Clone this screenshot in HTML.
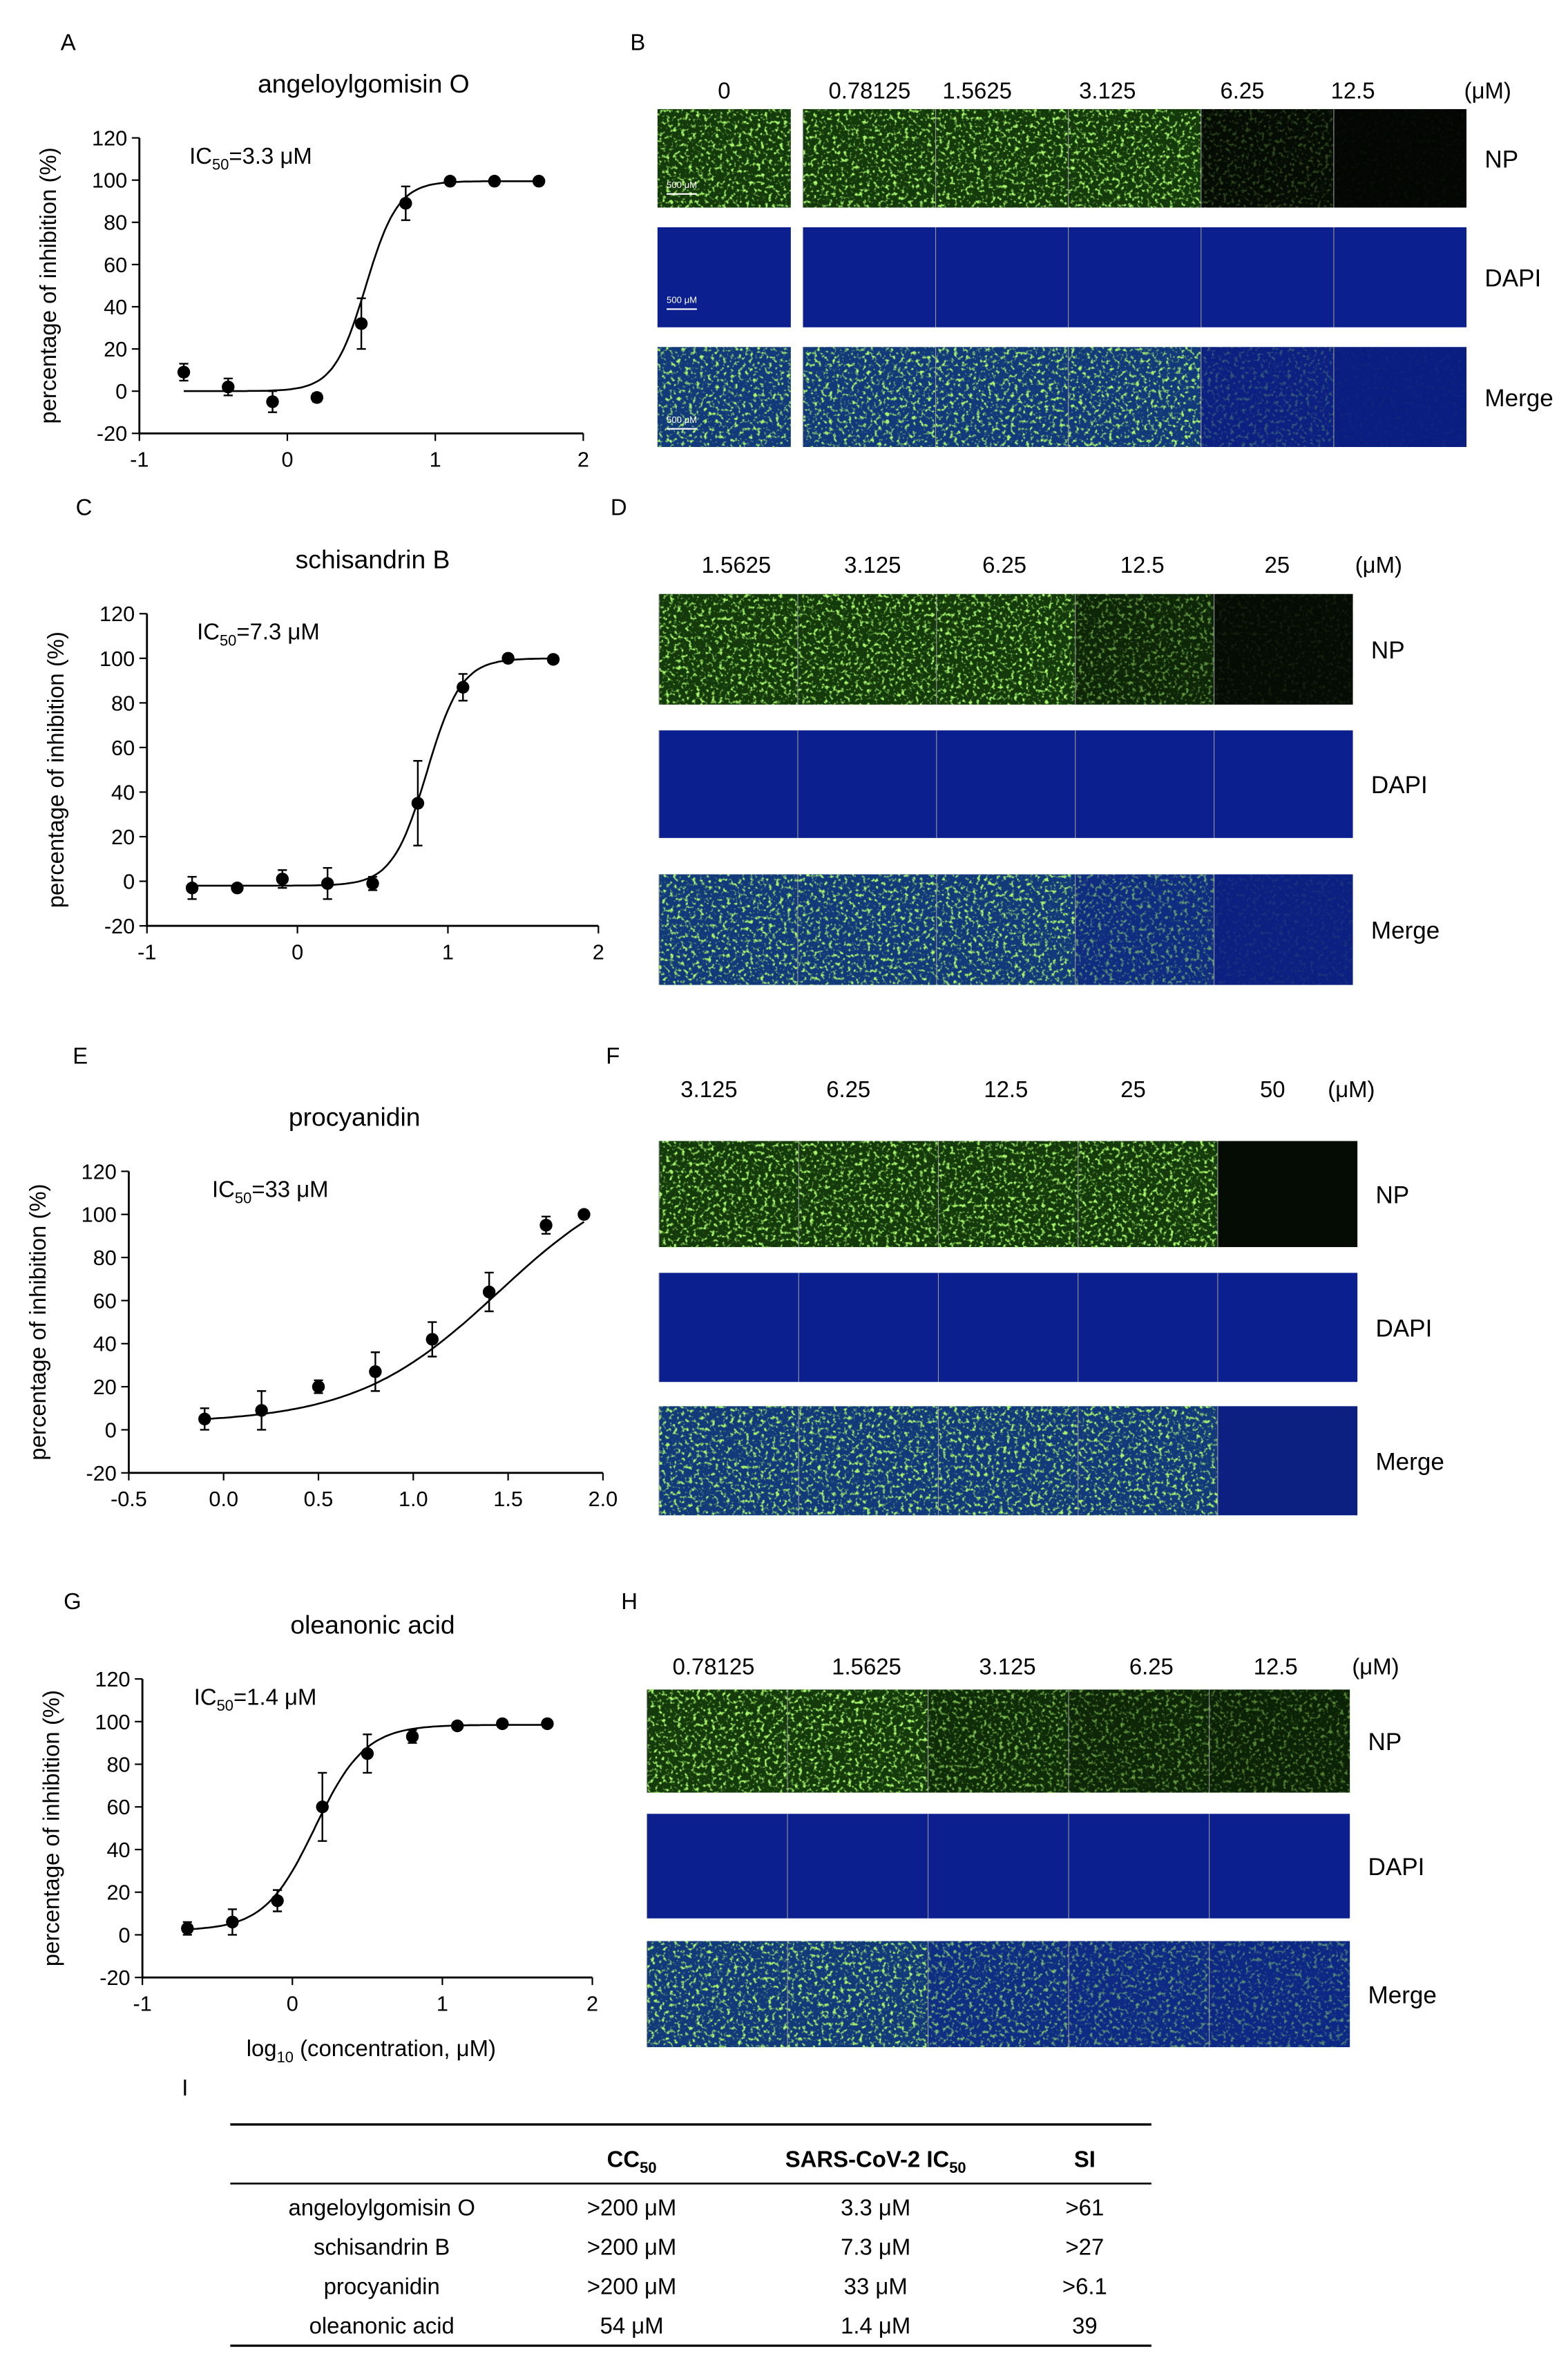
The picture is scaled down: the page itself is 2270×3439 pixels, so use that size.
<!DOCTYPE html>
<html><head><meta charset="utf-8">
<style>html,body{margin:0;padding:0;background:#fff}svg{display:block}</style>
</head><body>
<svg id="s" xmlns="http://www.w3.org/2000/svg" width="2270" height="3439" viewBox="0 0 1035 1568" font-family="Liberation Sans, sans-serif">
<defs>
<filter id="nz" x="0" y="0" width="100%" height="100%">
<feTurbulence type="fractalNoise" baseFrequency="0.4" numOctaves="2" seed="3"/>
<feColorMatrix values="0 0 0 0 0.4  0 0 0 0 0.95  0 0 0 0 0.15  0 0 0 4.5 -2.4"/>
</filter>
</defs>
<rect width="1035" height="1568" fill="#fff"/>
<g id="g"></g>
</svg>
<script>
const g=document.getElementById('g');let h='';
function T(x,y,t,o){o=o||{};h+=`<text x="${x}" y="${y}" font-size="${o.s||15}" text-anchor="${o.a||'middle'}" ${o.tr?`transform="${o.tr}"`:''} ${o.b?'font-weight="bold"':''} fill="#000">${t}</text>`;}
function plot(p){
 const X=v=>p.x0+(v-p.xa)*(p.x1-p.x0)/(p.xb-p.xa);
 const Y=v=>p.y0+(v-(-20))*(p.y1-p.y0)/140;
 const L=X(p.xa);
 h+=`<line x1="${L}" y1="${p.y0}" x2="${L}" y2="${p.y1}" stroke="#000" stroke-width="1.3"/>`;
 h+=`<line x1="${L}" y1="${p.y0}" x2="${X(p.xb)}" y2="${p.y0}" stroke="#000" stroke-width="1.3"/>`;
 for(let v=-20;v<=120;v+=20){h+=`<line x1="${L-5}" y1="${Y(v)}" x2="${L}" y2="${Y(v)}" stroke="#000"/>`;T(L-8,Y(v)+5,v,{a:'end',s:14});}
 p.xt.forEach(v=>{h+=`<line x1="${X(v)}" y1="${p.y0}" x2="${X(v)}" y2="${p.y0+5}" stroke="#000"/>`;T(X(v),p.y0+22,p.xf?v.toFixed(1):v,{s:14});});
 T(L-55,(p.y0+p.y1)/2,'percentage of inhibition (%)',{s:15,tr:`rotate(-90 ${L-55} ${(p.y0+p.y1)/2})`});
 T(p.tx,p.y1-30,p.title,{s:17});
 h+=`<text x="${p.icx}" y="${p.y1+17}" font-size="15">IC<tspan font-size="10" dy="4">50</tspan><tspan dy="-4">=${p.ic}</tspan></text>`;
 let d='';const [b,t,c,k]=p.f;
 for(let v=p.c0;v<=p.c1+1e-9;v+=0.02){const yv=b+(t-b)/(1+Math.pow(10,(c-v)*k));d+=(d?'L':'M')+X(v).toFixed(1)+','+Y(yv).toFixed(1);}
 h+=`<path d="${d}" fill="none" stroke="#000" stroke-width="1.2"/>`;
 p.d.forEach(([x,y,e])=>{if(e){h+=`<path d="M${X(x)},${Y(y-e)}V${Y(y+e)}M${X(x)-3},${Y(y-e)}h6M${X(x)-3},${Y(y+e)}h6" stroke="#000" stroke-width="1.1" fill="none"/>`;}h+=`<circle cx="${X(x)}" cy="${Y(y)}" r="4.2" fill="#000"/>`;});
}
plot({x0:92,x1:385,xa:-1,xb:2,y0:286,y1:91,xt:[-1,0,1,2],title:'angeloylgomisin O',tx:240,icx:125,ic:'3.3 μM',f:[0,99.5,0.53,4],c0:-0.7,c1:1.7,
 d:[[-0.7,9,4],[-0.4,2,4],[-0.1,-5,5],[0.2,-3,2],[0.5,32,12],[0.8,89,8],[1.1,99.5],[1.4,99.5],[1.7,99.5]]});
plot({x0:97,x1:395,xa:-1,xb:2,y0:611,y1:405,xt:[-1,0,1,2],title:'schisandrin B',tx:246,icx:130,ic:'7.3 μM',f:[-2,100,0.86,3.8],c0:-0.7,c1:1.7,
 d:[[-0.7,-3,5],[-0.4,-3],[-0.1,1,4],[0.2,-1,7],[0.5,-1,3],[0.8,35,19],[1.1,87,6],[1.4,100],[1.7,99.5]]});
plot({x0:85,x1:398,xa:-0.5,xb:2,y0:972,y1:773,xt:[-0.5,0,0.5,1,1.5,2],xf:1,title:'procyanidin',tx:234,icx:140,ic:'33 μM',f:[3,125,1.45,1.15],c0:-0.1,c1:1.9,
 d:[[-0.1,5,5],[0.2,9,9],[0.5,20,3],[0.8,27,9],[1.1,42,8],[1.4,64,9],[1.7,95,4],[1.9,100]]});
plot({x0:94,x1:391,xa:-1,xb:2,y0:1305,y1:1108,xt:[-1,0,1,2],title:'oleanonic acid',tx:246,icx:128,ic:'1.4 μM',f:[2,98.5,0.15,2.6],c0:-0.7,c1:1.7,
 d:[[-0.7,3,3],[-0.4,6,6],[-0.1,16,5],[0.2,60,16],[0.5,85,9],[0.8,93,3],[1.1,98],[1.4,99],[1.7,99]]});
h+=`<text x="245" y="1357" font-size="15" text-anchor="middle">log<tspan font-size="10" dy="4">10</tspan><tspan dy="-4"> (concentration, μM)</tspan></text>`;
[['A',40,33],['B',416,33],['C',50,340],['D',403,340],['E',48,702],['F',400,702],['G',42,1062],['H',410,1062],['I',120,1383]].forEach(([t,x,y])=>T(x,y,t,{a:'start',s:15}));
const GR='#143a0c',DK='#050c04',BL='#0b1f8e',MG='#123a7a',MD='#0b2080';
function tile(x,y,w,hh,c,glow){h+=`<rect x="${x}" y="${y}" width="${w}" height="${hh}" fill="${c}"/>`;if(glow)h+=`<rect x="${x}" y="${y}" width="${w}" height="${hh}" filter="url(#nz)" opacity="${glow}"/>`;}
function row(xs,y,hh,cols,glows){for(let i=0;i<cols.length;i++){tile(xs[i],y,xs[i+1]-xs[i],hh,cols[i],glows[i]);h+=`<line x1="${xs[i]}" y1="${y}" x2="${xs[i]}" y2="${y+hh}" stroke="#999" stroke-width="0.5"/>`;}}
function block(o){const xs=[];for(let i=0;i<=o.n;i++)xs.push(o.x0+(o.x1-o.x0)*i/o.n);
 const r=o.rows;row(xs,r[0][0],r[0][1],o.np,o.npg);row(xs,r[1][0],r[1][1],xs.slice(1).map(()=>BL),xs.slice(1).map(()=>0));row(xs,r[2][0],r[2][1],o.mg,o.npg);
 o.lab.forEach((t,i)=>T(o.lx[i],o.ly,t,{s:15}));T(o.ux,o.ly,'(μM)',{s:15});
 ['NP','DAPI','Merge'].forEach((t,i)=>T(o.x1+12,r[i][0]+r[i][1]/2+6,t,{a:'start',s:16}));}
tile(434,72,88,65,GR,1);tile(434,150,88,66,BL,0);tile(434,229,88,66,MG,1);
block({n:5,x0:530,x1:968,rows:[[72,65],[150,66],[229,66]],np:[GR,GR,GR,DK,'#030603'],npg:[1,1,1,0.25,0.03],mg:[MG,MG,MG,MD,'#0a1d80'],
 lab:['0.78125','1.5625','3.125','6.25','12.5'],lx:[574,645,731,820,893],ly:65,ux:982});
T(478,65,'0',{s:15});
[[440,128],[440,204],[440,283]].forEach(([x,y])=>{h+=`<line x1="${x}" y1="${y}" x2="${x+20}" y2="${y}" stroke="#fff"/><text x="${x}" y="${y-4}" font-size="6" fill="#fff">500 μM</text>`;});
block({n:5,x0:435,x1:893,rows:[[392,73],[482,71],[577,73]],np:[GR,GR,GR,'#0e2608',DK],npg:[1,1,1,0.55,0.08],mg:[MG,MG,MG,'#0f2c80',MD],
 lab:['1.5625','3.125','6.25','12.5','25'],lx:[486,576,663,754,843],ly:378,ux:910});
block({n:5,x0:435,x1:896,rows:[[753,70],[840,72],[928,72]],np:[GR,GR,GR,GR,DK],npg:[1,1,1,1,0],mg:[MG,MG,MG,MG,MD],
 lab:['3.125','6.25','12.5','25','50'],lx:[468,560,664,748,840],ly:724,ux:892});
block({n:5,x0:427,x1:891,rows:[[1115,68],[1197,69],[1281,70]],np:[GR,GR,'#0f2c08','#0d2607','#0c2206'],npg:[1,1,0.7,0.55,0.45],mg:[MG,MG,'#0f2d82','#0e2a84','#0d2784'],
 lab:['0.78125','1.5625','3.125','6.25','12.5'],lx:[471,572,665,760,842],ly:1105,ux:908});
h+=`<line x1="152" y1="1402" x2="760" y2="1402" stroke="#000" stroke-width="1.5"/><line x1="152" y1="1441" x2="760" y2="1441" stroke="#000" stroke-width="1.2"/><line x1="152" y1="1548" x2="760" y2="1548" stroke="#000" stroke-width="1.5"/>`;
h+=`<text x="417" y="1430" font-size="15" font-weight="bold" text-anchor="middle">CC<tspan font-size="10" dy="4">50</tspan></text>`;
h+=`<text x="578" y="1430" font-size="15" font-weight="bold" text-anchor="middle">SARS-CoV-2 IC<tspan font-size="10" dy="4">50</tspan></text>`;
T(716,1430,'SI',{s:15,b:1});
[['angeloylgomisin O','&gt;200 μM','3.3 μM','&gt;61'],['schisandrin B','&gt;200 μM','7.3 μM','&gt;27'],['procyanidin','&gt;200 μM','33 μM','&gt;6.1'],['oleanonic acid','54 μM','1.4 μM','39']].forEach((r,i)=>{const y=1462+i*26;T(252,y,r[0]);T(417,y,r[1]);T(578,y,r[2]);T(716,y,r[3]);});
g.innerHTML=h;
</script>
</body></html>
